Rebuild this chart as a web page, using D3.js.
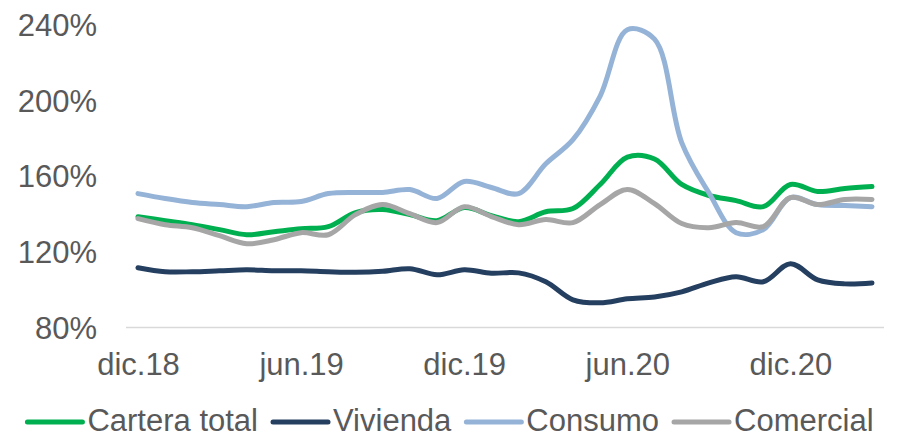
<!DOCTYPE html>
<html>
<head>
<meta charset="utf-8">
<script src="https://cdn.jsdelivr.net/npm/d3@7"></script>
<style>
  html, body { margin: 0; padding: 0; background: #fff; }
  svg { display: block; }
  text { font-family: "Liberation Sans", Arial, sans-serif; fill: #595959; }
</style>
</head>
<body>
<svg id="chart" width="897" height="438"></svg>
<script>
const months = ["dic.18","ene.19","feb.19","mar.19","abr.19","may.19","jun.19","jul.19","ago.19","sep.19","oct.19","nov.19",
  "dic.19","ene.20","feb.20","mar.20","abr.20","may.20","jun.20","jul.20","ago.20","sep.20","oct.20","nov.20",
  "dic.20","ene.21","feb.21","mar.21"];
const tickLabels = ["dic.18","jun.19","dic.19","jun.20","dic.20"];
const yTicks = [80, 120, 160, 200, 240];

const carteraTotal = [138.4,136.3,134.2,131.6,128.9,130.5,132.1,133.2,140.6,142.2,139.5,136.3,
  143.2,139.0,135.8,141.0,142.7,155.4,169.8,168.8,155.4,149.6,146.9,143.7,155.4,151.7,153.3,154.3];
const vivienda = [111.5,109.4,109.4,109.9,110.4,109.9,109.9,109.4,109.1,109.6,111.0,107.8,
  110.4,108.6,108.8,104.1,94.6,93.0,95.1,96.1,98.8,103.5,106.7,104.1,113.6,105.1,103.0,103.5];
const consumo = [150.6,148.0,145.9,144.8,143.7,145.9,146.4,150.6,151.2,151.2,152.7,148.0,
  157.0,153.8,150.6,166.3,179.0,202.0,237.0,232.0,177.5,151.0,130.0,131.6,148.5,144.8,144.3,143.7];
const comercial = [137.4,134.2,132.6,128.4,124.2,126.3,130.0,128.9,139.5,144.8,140.0,135.3,
  143.7,138.5,134.2,136.9,135.3,144.8,152.8,145.3,134.8,132.6,135.3,133.2,148.5,144.8,147.5,147.5];

const seriesNames = ["Cartera total","Vivienda","Consumo","Comercial"];
const seriesColors = ["#00B050","#243F60","#95B3D7","#A6A6A6"];
const seriesData = [carteraTotal, vivienda, consumo, comercial];

const svg = d3.select("#chart");
const x = d3.scalePoint().domain(months).range([138, 872]);
const y = d3.scaleLinear().domain([80, 240]).range([327.5, 24]);

// baseline gridline
svg.append("line")
  .attr("x1", x(months[0]) - 12).attr("x2", x(months[months.length-1]) + 12)
  .attr("y1", y(80)).attr("y2", y(80))
  .attr("stroke", "#D9D9D9").attr("stroke-width", 1.5);

// y axis labels
const yAxis = d3.axisLeft(y).tickValues(yTicks).tickFormat(d => d + "%").tickSize(0).tickPadding(0);
const gy = svg.append("g").attr("transform", "translate(97,0)").call(yAxis);
gy.select(".domain").remove();
gy.selectAll("text").style("font-size", "31px").style("font-family", "'Liberation Sans', Arial, sans-serif")
  .attr("fill", "#595959").attr("dy", "0.36em");

// x axis labels
const xAxis = d3.axisBottom(x).tickValues(tickLabels).tickSize(0).tickPadding(0);
const gx = svg.append("g").call(xAxis);
gx.select(".domain").remove();
gx.selectAll("text").style("font-size", "31px").style("font-family", "'Liberation Sans', Arial, sans-serif")
  .attr("fill", "#595959").attr("y", 375).attr("dy", null);

// lines
const line = d3.line()
  .x((d, i) => x(months[i]))
  .y(d => y(d))
  .curve(d3.curveCatmullRom.alpha(0.5));

seriesData.forEach((data, k) => {
  svg.append("path")
    .datum(data)
    .attr("d", line)
    .attr("fill", "none")
    .attr("stroke", seriesColors[k])
    .attr("stroke-width", 5)
    .attr("stroke-linejoin", "round")
    .attr("stroke-linecap", "round");
});

// legend
const legend = svg.append("g");
const markerLen = 55, markerGap = 5, itemGap = 15, legendY = 422;
const items = seriesNames.map((name, k) => {
  const g = legend.append("g");
  g.append("line").attr("x1", 0).attr("x2", markerLen).attr("y1", legendY).attr("y2", legendY)
    .attr("stroke", seriesColors[k]).attr("stroke-width", 5).attr("stroke-linecap", "round");
  const t = g.append("text").attr("x", markerLen + markerGap).attr("y", 431)
    .style("font-size", "31px").text(name);
  return { g, w: markerLen + markerGap + t.node().getComputedTextLength() };
});
const total = d3.sum(items, d => d.w) + itemGap * (items.length - 1);
let cx = 450.5 - total / 2;
items.forEach(it => {
  it.g.attr("transform", `translate(${cx},0)`);
  cx += it.w + itemGap;
});
</script>
</body>
</html>
